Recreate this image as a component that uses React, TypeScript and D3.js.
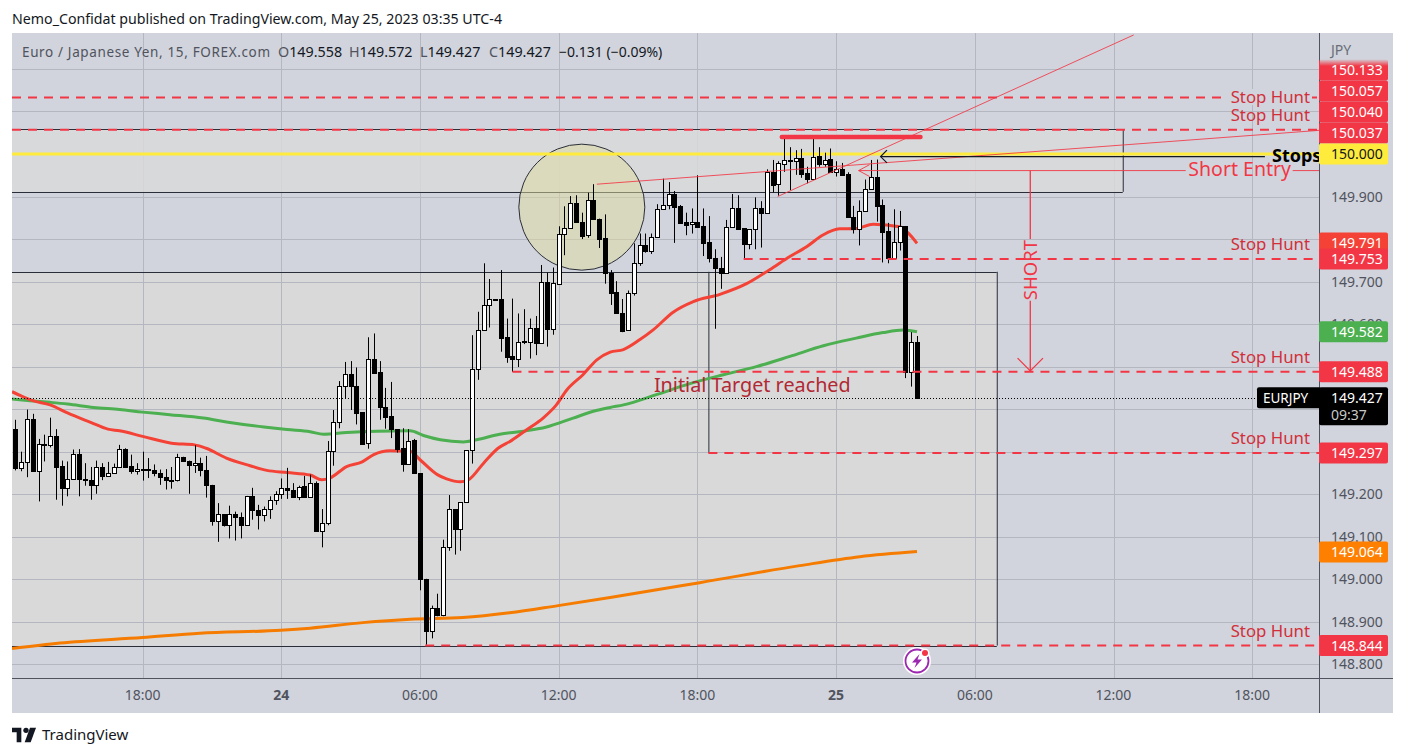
import React from "react";
import * as d3 from "d3";

const startIndex = -22;
const opens = [149.353,149.262,149.276,149.377,149.254,149.318,149.316,149.337,149.266,149.215,149.236,149.295,149.236,149.234,149.222,149.264,149.242,149.251,149.265,149.307,149.266,149.254,149.260,149.259,149.257,149.250,149.240,149.234,149.233,149.287,149.278,149.269,149.273,149.258,149.222,149.136,149.153,149.127,149.154,149.147,149.127,149.196,149.163,149.151,149.165,149.186,149.200,149.215,149.211,149.193,149.219,149.193,149.227,149.113,149.132,149.301,149.369,149.454,149.482,149.454,149.393,149.320,149.517,149.487,149.405,149.383,149.353,149.308,149.271,149.327,149.249,149.001,148.879,148.932,148.915,149.077,149.165,149.119,149.181,149.303,149.494,149.585,149.646,149.659,149.658,149.569,149.525,149.519,149.560,149.557,149.592,149.556,149.700,149.588,149.695,149.812,149.827,149.884,149.839,149.809,149.893,149.848,149.802,149.721,149.675,149.626,149.586,149.674,149.743,149.787,149.771,149.804,149.870,149.881,149.905,149.877,149.839,149.835,149.839,149.830,149.792,149.755,149.732,149.719,149.829,149.872,149.825,149.789,149.823,149.874,149.862,149.957,149.929,149.977,149.984,149.984,149.990,149.955,149.941,149.995,149.977,149.988,149.958,149.965,149.953,149.853,149.824,149.867,149.918,149.947,149.879,149.818,149.755,149.792,149.830,149.488,149.558];
const highs = [149.375,149.300,149.399,149.389,149.330,149.340,149.380,149.353,149.279,149.277,149.305,149.306,149.273,149.264,149.279,149.273,149.276,149.272,149.316,149.308,149.293,149.273,149.300,149.285,149.270,149.258,149.259,149.264,149.295,149.288,149.279,149.315,149.286,149.290,149.222,149.179,149.153,149.173,149.159,149.157,149.196,149.215,149.175,149.171,149.195,149.207,149.237,149.262,149.226,149.220,149.243,149.246,149.230,149.165,149.325,149.398,149.466,149.511,149.513,149.498,149.393,149.569,149.578,149.513,149.450,149.464,149.353,149.355,149.353,149.330,149.249,149.001,148.938,148.966,149.093,149.198,149.165,149.181,149.303,149.574,149.629,149.743,149.706,149.659,149.727,149.613,149.660,149.625,149.635,149.613,149.619,149.739,149.721,149.733,149.830,149.877,149.901,149.903,149.862,149.909,149.929,149.848,149.858,149.727,149.701,149.659,149.679,149.790,149.813,149.813,149.813,149.882,149.942,149.934,149.913,149.880,149.862,149.872,149.950,149.872,149.854,149.776,149.758,149.845,149.906,149.903,149.825,149.823,149.898,149.889,149.964,149.986,149.983,150.037,150.016,150.009,150.012,149.970,150.040,150.016,150.003,150.013,149.983,149.979,149.957,149.878,149.891,149.940,149.986,149.987,149.893,149.838,149.870,149.866,149.830,149.581,149.572];
const lows = [149.256,149.254,149.240,149.254,149.183,149.277,149.310,149.187,149.173,149.195,149.236,149.195,149.220,149.187,149.201,149.233,149.242,149.248,149.262,149.265,149.248,149.246,149.232,149.238,149.242,149.222,149.211,149.213,149.230,149.277,149.201,149.250,149.242,149.192,149.126,149.088,149.124,149.096,149.091,149.096,149.127,149.140,149.117,149.136,149.142,149.175,149.189,149.189,149.191,149.186,149.193,149.193,149.113,149.075,149.127,149.267,149.355,149.426,149.398,149.364,149.316,149.307,149.486,149.375,149.354,149.332,149.298,149.253,149.271,149.249,148.974,148.846,148.861,148.913,148.913,149.067,149.058,149.067,149.181,149.272,149.469,149.585,149.592,149.657,149.535,149.509,149.488,149.499,149.553,149.519,149.527,149.556,149.547,149.575,149.692,149.762,149.824,149.839,149.800,149.803,149.848,149.779,149.695,149.645,149.625,149.581,149.586,149.667,149.737,149.768,149.765,149.804,149.870,149.870,149.791,149.838,149.809,149.813,149.829,149.760,149.745,149.589,149.683,149.719,149.829,149.824,149.753,149.776,149.776,149.780,149.862,149.910,149.902,149.958,149.915,149.951,149.944,149.931,149.941,149.970,149.970,149.958,149.947,149.951,149.852,149.813,149.785,149.865,149.918,149.841,149.745,149.743,149.755,149.773,149.473,149.453,149.427];
const closes = [149.262,149.275,149.377,149.254,149.317,149.316,149.337,149.265,149.214,149.236,149.294,149.235,149.233,149.221,149.264,149.242,149.251,149.265,149.306,149.265,149.254,149.259,149.258,149.257,149.249,149.240,149.233,149.233,149.287,149.277,149.268,149.273,149.256,149.221,149.136,149.153,149.127,149.153,149.146,149.127,149.196,149.162,149.150,149.165,149.186,149.200,149.215,149.209,149.193,149.218,149.193,149.226,149.113,149.132,149.301,149.369,149.454,149.482,149.454,149.392,149.319,149.517,149.486,149.404,149.382,149.353,149.307,149.271,149.326,149.249,149.000,148.878,148.932,148.915,149.077,149.165,149.119,149.181,149.303,149.494,149.585,149.646,149.658,149.657,149.567,149.523,149.519,149.559,149.557,149.592,149.556,149.700,149.588,149.696,149.811,149.827,149.884,149.839,149.808,149.893,149.848,149.801,149.719,149.674,149.625,149.584,149.674,149.743,149.787,149.771,149.804,149.870,149.881,149.905,149.876,149.838,149.833,149.839,149.829,149.791,149.755,149.731,149.719,149.829,149.872,149.824,149.789,149.823,149.874,149.862,149.957,149.928,149.978,149.985,149.986,149.990,149.952,149.941,149.994,149.977,149.987,149.958,149.965,149.951,149.852,149.823,149.867,149.918,149.947,149.878,149.817,149.755,149.792,149.830,149.488,149.558,149.427];

const redIdx = [-22.6,-21,-19,-16,-13,-9,-6,-4,0,5,9,11,14.5,18.6,21.5,25,29,31,32.4,35.3,38,40,42.8,46.3,48,51,52.6,55,56.4,59,61.5,63.8,66.4,69.3,71.6,73.4,76.2,78.6,80.9,83.2,86,88.4,91.8,95.3,99.9,104.5,108.5,112,114.9,117.8,120.6,123.5,126.4,131,132.5,134];
const redVal = [149.441,149.431,149.420,149.410,149.391,149.369,149.353,149.349,149.336,149.320,149.316,149.308,149.285,149.267,149.256,149.251,149.245,149.234,149.238,149.265,149.276,149.293,149.302,149.301,149.281,149.246,149.236,149.229,149.234,149.273,149.308,149.326,149.351,149.379,149.410,149.445,149.481,149.516,149.534,149.540,149.563,149.587,149.628,149.653,149.670,149.695,149.728,149.759,149.782,149.810,149.824,149.825,149.835,149.829,149.814,149.790];
const greenIdx = [-22.6,-19.5,-16,-13,-8.5,-4,0,4.7,10.5,14.5,21,25,29,31.3,35.3,40.5,46.3,48.6,51.5,55.5,57.8,61.8,65.9,69.9,74.5,78,80.9,83.2,88.9,94.7,100.5,106.2,112,117.8,123.5,128.1,131.6,134];
const greenVal = [149.424,149.420,149.416,149.412,149.404,149.399,149.393,149.387,149.379,149.370,149.358,149.352,149.347,149.341,149.345,149.348,149.349,149.338,149.328,149.323,149.328,149.341,149.348,149.358,149.379,149.395,149.404,149.410,149.434,149.460,149.481,149.500,149.524,149.549,149.567,149.580,149.586,149.582];
const orangeIdx = [-22.6,-14.3,0,9.9,23.9,29,38.1,46.3,55.4,63.5,71.9,80.9,96.4,113.7,124.1,134];
const orangeVal = [148.837,148.850,148.863,148.873,148.880,148.885,148.898,148.906,148.910,148.921,148.938,148.957,148.992,149.032,149.053,149.065];

const priceTicks = [148.8,148.9,149.0,149.1,149.2,149.3,149.4,149.5,149.6,149.7,149.8,149.9,150.0,150.1,150.2];
const priceTickLabels = [148.8,148.9,149.0,149.1,149.2,149.5,149.6,149.7,149.9];
const timeTicks = [0,24,48,72,96,120,144,168,192];
const timeLabels = ["18:00","24","06:00","12:00","18:00","25","06:00","12:00","18:00"];
const stopLevels = [150.133,150.057,149.753,149.488,149.297,148.844];
const stopStarts = [null,null,104,64,97.9,48.9];
const axisPrices = [150.133,150.057,150.040,150.037,149.753,149.488,149.297,148.844];
const maLabels = [149.791,149.582,149.064];

const RED = "#f23645", MA_RED = "#f44336", GREEN = "#4caf50", ORANGE = "#f57c00", YELLOW = "#ffeb3b";
const GRID = "#b4b7bf", BG = "#d1d4dc", BOX = "#d9d9d9", AXIS = "#50535e";
const FONT = "'Noto Sans', sans-serif";

const L = 12, R = 1319, B = 678, T = 33;
const x = d3.scaleLinear().domain([0, 24]).range([142.6, 281.3]);
const y = d3.scaleLinear().domain([150, 148.8]).range([154, 664.3]);
const px = (v: number) => Math.round(v) + 0.5;

const lineOf = (idx: number[], val: number[]) =>
  d3.line<number>().x((d) => x(d)).y((_, i) => y(val[i])).curve(d3.curveMonotoneX)(idx) as string;

function stacked() {
  const up = axisPrices.filter((p) => p > 150).sort(d3.ascending);
  let prev = y(150);
  const out: { p: number; c: number }[] = [];
  for (const p of up) {
    const c = Math.min(y(p), prev - 21);
    out.push({ p, c });
    prev = c;
  }
  axisPrices.filter((p) => p < 150).forEach((p) => out.push({ p, c: y(p) }));
  return out;
}

function PriceTag({ c, text, fill, color = "#fff" }: any) {
  return (
    <g>
      <rect x={R} y={c - 10.5} width={69} height={21} rx={2} fill={fill} />
      <text x={R + 12} y={c + 5} fontSize={14} fill={color} fontFamily={FONT}>{text}</text>
    </g>
  );
}

export default function App() {
  const rectLeft = L;
  const shortEntry = 149.961, stopsLine = 149.994;
  const tlA = { k0: 78.6, p0: 149.929, k1: 204, p1: 150.056 };
  const tlB = { k0: 109.9, p0: 149.9, k1: 171.5, p1: 150.28 };
  return (
    <svg width={1405} height={756} style={{ position: "absolute", left: 0, top: 0, background: "#fff" }}>
      <defs>
        <clipPath id="pane"><rect x={L} y={T} width={R - L} height={B - T} /></clipPath>
        <linearGradient id="fade" x1="0" x2="0" y1="0" y2="1">
          <stop offset="0" stopColor={BG} stopOpacity={1} />
          <stop offset="1" stopColor={BG} stopOpacity={0} />
        </linearGradient>
      </defs>
      <text x={12} y={24} fontSize={14} fill="#131722" fontFamily={FONT} textLength={490} lengthAdjust="spacingAndGlyphs">Nemo_Confidat published on TradingView.com, May 25, 2023 03:35 UTC-4</text>
      <rect x={L} y={T} width={1381} height={680} fill={BG} />

      {priceTicks.map((p) => (
        <line key={p} x1={L} x2={R} y1={px(y(p))} y2={px(y(p))} stroke={GRID} />
      ))}
      {timeTicks.map((t) => (
        <line key={t} x1={px(x(t))} x2={px(x(t))} y1={T} y2={B} stroke={GRID} />
      ))}

      <g clipPath="url(#pane)">
        <rect x={rectLeft} y={y(150.057)} width={x(169.6) - rectLeft} height={y(149.911) - y(150.057)} fill={BOX} fillOpacity={0.85} />
        <rect x={rectLeft} y={y(149.723)} width={x(147.8) - rectLeft} height={y(148.844) - y(149.723)} fill={BOX} fillOpacity={0.95} />
        {timeTicks.map((t) => (
          <line key={t} x1={px(x(t))} x2={px(x(t))} y1={y(149.723)} y2={y(148.844)} stroke={GRID} />
        ))}
        {priceTicks.filter((p) => p > 148.844 && p < 149.723).map((p) => (
          <line key={p} x1={L} x2={x(147.8)} y1={px(y(p))} y2={px(y(p))} stroke={GRID} />
        ))}
        <line x1={L} x2={x(169.6)} y1={px(y(149.911))} y2={px(y(149.911))} stroke="#2a2e39" />
        <line x1={x(169.6) + 0.5} x2={x(169.6) + 0.5} y1={y(150.057)} y2={y(149.911)} stroke="#2a2e39" />
        <line x1={L} x2={x(147.8)} y1={px(y(149.723))} y2={px(y(149.723))} stroke="#2a2e39" />
        <line x1={L} x2={x(147.8)} y1={px(y(148.844))} y2={px(y(148.844))} stroke="#2a2e39" />
        <line x1={x(147.8) + 0.5} x2={x(147.8) + 0.5} y1={y(149.723)} y2={y(148.844)} stroke="#2a2e39" />
        <line x1={x(169.6)} x2={L} y1={px(y(150.057)) - 1} y2={px(y(150.057)) - 1} stroke="#2a2e39" />

        <circle cx={x(76)} cy={y(149.875)} r={63} fill="#e0dca0" fillOpacity={0.5} stroke="#2a2e39" />

        <line x1={L} x2={R} y1={y(150)} y2={y(150)} stroke={YELLOW} strokeWidth={3} />
        <line x1={x(97.9) + 0.5} x2={x(97.9) + 0.5} y1={y(149.723)} y2={y(149.297)} stroke="#2a2e39" />

        <path d={lineOf(orangeIdx, orangeVal)} fill="none" stroke={ORANGE} strokeWidth={3} />
        <path d={lineOf(greenIdx, greenVal)} fill="none" stroke={GREEN} strokeWidth={3} />
        <path d={lineOf(redIdx, redVal)} fill="none" stroke={MA_RED} strokeWidth={3} />

        {opens.map((o, i) => {
          const k = startIndex + i;
          const c = closes[i];
          const cx = Math.round(x(k));
          const top = Math.round(y(Math.max(o, c)));
          const bot = Math.round(y(Math.min(o, c)));
          return (
            <g key={k}>
              <line x1={cx + 0.5} x2={cx + 0.5} y1={y(highs[i])} y2={y(lows[i])} stroke="#000" />
              <rect x={cx - 1.5} y={top + 0.5} width={4} height={Math.max(bot - top, 1)} fill={c >= o ? "#fff" : "#000"} stroke="#000" />
            </g>
          );
        })}

        <line x1={L} x2={R} y1={px(y(149.427))} y2={px(y(149.427))} stroke="#000" strokeDasharray="1 2" />

        {stopLevels.map((p, i) => (
          <line key={p} x1={stopStarts[i] == null ? L : x(stopStarts[i] as number)} x2={R} y1={y(p)} y2={y(p)} stroke={RED} strokeWidth={2} strokeDasharray="9 7" />
        ))}

        <line x1={x(tlA.k0)} y1={y(tlA.p0)} x2={x(tlA.k1)} y2={y(tlA.p1)} stroke={RED} strokeOpacity={0.85} />
        <line x1={x(tlB.k0)} y1={y(tlB.p0)} x2={x(tlB.k1)} y2={y(tlB.p1)} stroke={RED} strokeOpacity={0.85} />
        <line x1={x(110.6)} x2={x(134.6)} y1={y(150.04)} y2={y(150.04)} stroke={RED} strokeWidth={4.5} strokeLinecap="round" />

        <path d={`M${x(125.8)},${y(149.975)}L${x(123.9)},${y(shortEntry)}L${x(125.8)},${y(149.947)}`} fill="none" stroke={RED} strokeOpacity={0.9} />
        <line x1={x(123.9)} x2={x(180.5)} y1={y(shortEntry)} y2={y(shortEntry)} stroke={RED} strokeOpacity={0.9} />
        <line x1={x(199)} x2={R} y1={y(shortEntry)} y2={y(shortEntry)} stroke={RED} strokeOpacity={0.9} />
        <text x={1291} y={176} textAnchor="end" fontSize={19.5} fill={RED} fontFamily={FONT}>Short Entry</text>

        <path d={`M${x(128.8)},${y(150.009)}L${x(127.7)},${y(stopsLine)}L${x(128.8)},${y(149.979)}`} fill="none" stroke="#131722" strokeWidth={1.2} />
        <line x1={x(127.7)} x2={x(194.2)} y1={y(stopsLine)} y2={y(stopsLine)} stroke="#131722" strokeWidth={1.2} />
        <text x={1272} y={162} fontSize={18} fontWeight={700} fill="#000" fontFamily={FONT}>Stops</text>

        <line x1={x(153.6)} x2={x(153.6)} y1={y(shortEntry)} y2={y(149.8)} stroke={RED} strokeWidth={1.3} />
        <line x1={x(153.6)} x2={x(153.6)} y1={y(149.655)} y2={y(149.49)} stroke={RED} strokeWidth={1.3} />
        <path d={`M${x(151.4)},${y(149.52)}L${x(153.6)},${y(149.49)}L${x(155.8)},${y(149.52)}`} fill="none" stroke={RED} strokeWidth={1.3} />
        <text transform={`translate(${x(153.6) + 6.5},${y(149.727)}) rotate(-90)`} textAnchor="middle" fontSize={18.5} fill={RED} fontFamily={FONT}>SHORT</text>
        <text x={x(105.5)} y={392} fontSize={19.8} textAnchor="middle" fill="#b22833" fontFamily={FONT}>Initial Target reached</text>

        {[97, 115, 244, 357, 438, 631].map((ty, i) => (
          <g key={i}>
            <rect x={1226} y={ty - 8} width={86} height={16} fill={BG} fillOpacity={i === 0 ? 1 : 0} />
            <text x={1310} y={ty + 6} textAnchor="end" fontSize={16.8} fill="#d32f3a" fontFamily={FONT}>Stop Hunt</text>
          </g>
        ))}
      </g>

      <text x={22} y={57} fontSize={13.5} fontFamily={FONT} fill="#50535e" textLength={248} lengthAdjust="spacing">Euro / Japanese Yen, 15, FOREX.com</text>
      {[["O", "149.558", 278], ["H", "149.572", 349], ["L", "149.427", 420], ["C", "149.427", 489]].map(([a, b, xx]) => (
        <text key={a as string} x={xx as number} y={57} fontSize={14.3} fontFamily={FONT} fill="#50535e">{a}<tspan fill="#131722">{b}</tspan></text>
      ))}
      <text x={559} y={57} fontSize={14} fontFamily={FONT} fill="#131722">−0.131 (−0.09%)</text>

      <line x1={R + 0.5} x2={R + 0.5} y1={T} y2={713} stroke={AXIS} />
      <line x1={L} x2={1393} y1={B + 0.5} y2={B + 0.5} stroke={AXIS} />

      <text x={1331} y={55} fontSize={14} fill="#6a6d78" fontFamily={FONT}>JPY</text>
      {priceTickLabels.map((p) => (
        <text key={p} x={1331} y={y(p) + 5} fontSize={14} fill="#50535e" fontFamily={FONT}>{p.toFixed(3)}</text>
      ))}
      {timeTicks.map((t, i) => (
        <text key={t} x={x(t)} y={700} textAnchor="middle" fontSize={14} fontWeight={timeLabels[i].length === 2 ? 700 : 400} fill="#50535e" fontFamily={FONT}>{timeLabels[i]}</text>
      ))}

      <g>
        <PriceTag c={y(149.791)} text={maLabels[0].toFixed(3)} fill="#f44336" />
        {stacked().map(({ p, c }) => (
          <PriceTag key={p} c={c} text={p.toFixed(3)} fill={RED} />
        ))}
        <rect x={R + 1} y={59} width={69} height={7} fill="url(#fade)" />
        <PriceTag c={y(150)} text="150.000" fill={YELLOW} color="#131722" />
        <PriceTag c={y(149.582)} text={maLabels[1].toFixed(3)} fill={GREEN} />
        <PriceTag c={y(149.064)} text={maLabels[2].toFixed(3)} fill="#ff7f00" />
        <rect x={1257} y={y(149.427) - 10.5} width={64} height={21} rx={2} fill="#000" />
        <text x={1263} y={y(149.427) + 5} fontSize={13.5} fill="#fff" fontFamily={FONT}>EURJPY</text>
        <rect x={R} y={y(149.427) - 10.5} width={69} height={38} rx={2} fill="#000" />
        <text x={R + 12} y={y(149.427) + 5} fontSize={14} fill="#fff" fontFamily={FONT}>149.427</text>
        <text x={R + 12} y={y(149.427) + 22} fontSize={14} fill="#c8c8c8" fontFamily={FONT}>09:37</text>
      </g>

      <g transform="translate(917,661)">
        <circle r={14} fill="#fff" />
        <circle r={11.5} fill="none" stroke="#9c27b0" strokeWidth={1.8} />
        <path d="M2.5,-7 L-5,1.5 L-0.5,1.5 L-2.5,7 L5,-1.5 L0.5,-1.5 Z" fill="#9c27b0" />
        <circle cx={8} cy={-8} r={4.5} fill="#fff" />
        <circle cx={8} cy={-8} r={3} fill={RED} />
      </g>

      <g transform="translate(12,725) scale(0.667)" fill="#131722">
        <path d="M14 4H0v7h7v15h7V4Z" />
        <circle cx={21} cy={8} r={4} />
        <path d="M28 26l8-22h-9l-8 22h9Z" />
      </g>
      <text x={42} y={740} fontSize={15} fill="#131722" fontFamily={FONT}>TradingView</text>
    </svg>
  );
}
